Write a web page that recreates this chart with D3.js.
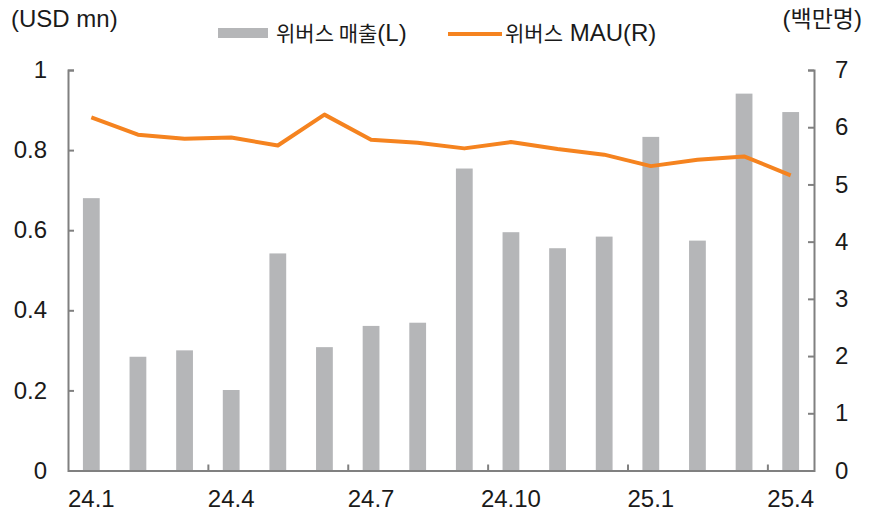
<!DOCTYPE html>
<html>
<head>
<meta charset="utf-8">
<script src="https://cdn.jsdelivr.net/npm/d3@7"></script>
<style>
  body { margin: 0; background: #fff; }
  svg text { font-family: "Liberation Sans", Arial, sans-serif; fill: #1a1a1a; }
  svg tspan.ko { font-family: "Noto Sans CJK KR", sans-serif; }
</style>
</head>
<body>
<div id="chart"></div>
<script>
// Monthly categories (24.1 ~ 25.4)
const months = ['24.1', '24.2', '24.3', '24.4', '24.5', '24.6', '24.7', '24.8', '24.9',
  '24.10', '24.11', '24.12', '25.1', '25.2', '25.3', '25.4'];
// Weverse revenue, USD mn (left axis)
const revenue = [0.68, 0.284, 0.30, 0.201, 0.542, 0.308, 0.361, 0.369, 0.754,
  0.595, 0.555, 0.584, 0.833, 0.574, 0.941, 0.895];
// Weverse MAU, millions (right axis)
const mau = [6.17, 5.87, 5.80, 5.82, 5.68, 6.22, 5.78, 5.73, 5.63,
  5.74, 5.62, 5.52, 5.32, 5.43, 5.49, 5.16];
const leftTicks = [0, 0.2, 0.4, 0.6, 0.8, 1];
const rightTicks = [0, 1, 2, 3, 4, 5, 6, 7];
const xLabels = ['24.1', '24.4', '24.7', '24.10', '25.1', '25.4'];

const W = 870;
const H = 511;
const plotLeft = 68;
const plotRight = 814;
const plotTop = 70;
const plotBottom = 470.5;
const axisColor = '#808080';
const fontSize = 24;
const koSize = 21;

const svg = d3.select('#chart')
  .append('svg')
  .attr('width', W)
  .attr('height', H);

// Scales
const x = d3.scaleBand().domain(months).range([plotLeft, plotRight]).paddingInner(0.64).paddingOuter(0.32);
const xEdge = d3.scaleLinear().domain([0, months.length]).range([plotLeft, plotRight]);
const yL = d3.scaleLinear().domain([0, 1]).range([plotBottom, plotTop]);
const yR = d3.scaleLinear().domain([0, 7]).range([plotBottom, plotTop]);

// Bars
svg.append('g')
  .selectAll('rect')
  .data(revenue)
  .enter()
  .append('rect')
  .attr('x', (d, i) => x(months[i]))
  .attr('y', (d) => yL(d))
  .attr('width', x.bandwidth())
  .attr('height', (d) => plotBottom - yL(d))
  .attr('fill', '#b5b6b8');

// Line
const line = d3.line()
  .x((d, i) => x(months[i]) + x.bandwidth() / 2)
  .y((d) => yR(d));

svg.append('path')
  .datum(mau)
  .attr('d', line)
  .attr('fill', 'none')
  .attr('stroke', '#f5831f')
  .attr('stroke-width', 4)
  .attr('stroke-linejoin', 'round');

// Axes
const styleAxis = (g) => {
  g.selectAll('path, line').attr('stroke', axisColor).attr('stroke-width', 2);
  g.selectAll('text')
    .style('font-size', `${fontSize}px`)
    .style('font-family', '"Liberation Sans", Arial, sans-serif')
    .attr('fill', '#1a1a1a');
};

svg.append('g')
  .attr('transform', `translate(${plotLeft},0)`)
  .call(d3.axisLeft(yL).tickValues(leftTicks).tickFormat((d) => d).tickSize(-6).tickPadding(21))
  .call(styleAxis);

svg.append('g')
  .attr('transform', `translate(${plotRight},0)`)
  .call(d3.axisRight(yR).tickValues(rightTicks).tickFormat((d) => d).tickSize(-6).tickPadding(21))
  .call(styleAxis);

// Bottom axis: boundary ticks every 3 months
svg.append('g')
  .attr('transform', `translate(0,${plotBottom})`)
  .call(d3.axisBottom(xEdge).tickValues([3, 6, 9, 12, 15]).tickFormat('').tickSize(-6).tickSizeOuter(0))
  .call(styleAxis);

// Bottom labels at category centres
svg.append('g')
  .attr('transform', `translate(0,${plotBottom})`)
  .call(d3.axisBottom(x).tickValues(xLabels).tickSize(0).tickPadding(19))
  .call((g) => g.select('.domain').remove())
  .call(styleAxis);

// Mixed Korean / Latin text helper
const mixedText = (g, parts, xPos, yPos, anchor) => {
  const t = g.append('text')
    .attr('x', xPos)
    .attr('y', yPos)
    .attr('text-anchor', anchor || 'start')
    .style('font-size', `${fontSize}px`);
  parts.forEach(([s, ko]) => {
    t.append('tspan')
      .attr('class', ko ? 'ko' : null)
      .style('font-size', `${ko ? koSize : fontSize}px`)
      .text(s);
  });
  return t;
};

// Unit labels
svg.append('text')
  .attr('x', 11)
  .attr('y', 27)
  .style('font-size', `${fontSize}px`)
  .text('(USD mn)');

const unitR = mixedText(svg, [['(', false], ['백만명', true], [')', false]], 862, 27, 'end');
unitR.select('tspan.ko').style('font-size', '23px');

// Legend
const legend = svg.append('g');
legend.append('rect')
  .attr('x', 218).attr('y', 28)
  .attr('width', 50).attr('height', 10)
  .attr('fill', '#b5b6b8');
mixedText(legend, [['위버스 매출', true], ['(L)', false]], 276, 41);
legend.append('line')
  .attr('x1', 448).attr('x2', 502)
  .attr('y1', 34).attr('y2', 34)
  .attr('stroke', '#f5831f')
  .attr('stroke-width', 4);
mixedText(legend, [['위버스', true], [' MAU(R)', false]], 505, 41);
</script>
</body>
</html>
